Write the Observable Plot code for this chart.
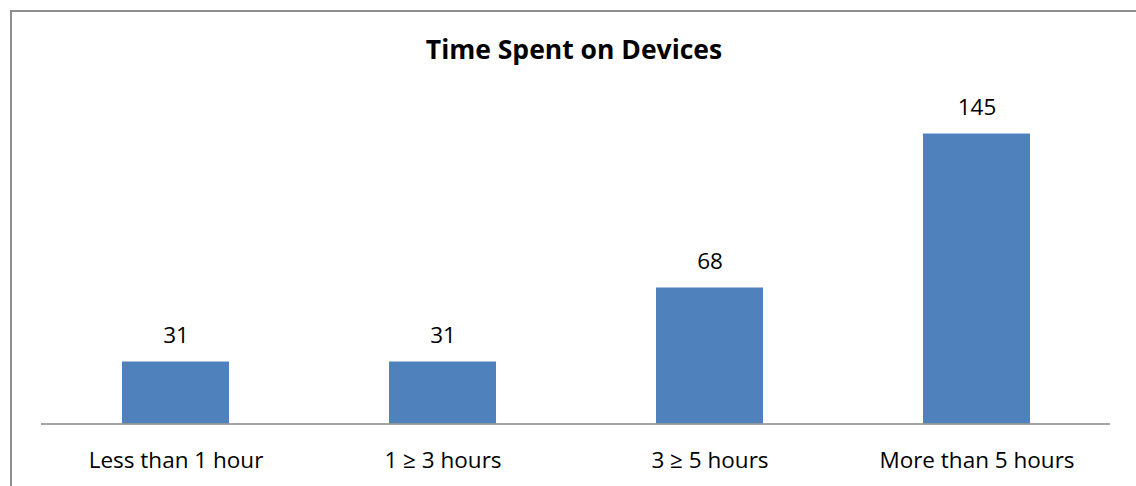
<!DOCTYPE html>
<html>
<head>
<meta charset="utf-8">
<script src="https://cdn.jsdelivr.net/npm/d3@7"></script>
<script src="https://cdn.jsdelivr.net/npm/@observablehq/plot@0.6"></script>
<style>
  html, body { margin: 0; padding: 0; background: #fff; overflow: hidden; }
  #wrap { position: relative; width: 1136px; height: 486px; overflow: hidden; }
  #border { position: absolute; left: 10px; top: 10px; width: 1126px; height: 476px; border-top: 2px solid #8e8e8e; border-left: 2px solid #8e8e8e; box-sizing: border-box; }
  #title { position: absolute; left: 0; width: 1148px; top: 36px; text-align: center; font: bold 26.5px "Open Sans", sans-serif; line-height: 1; color: #000; }
  #chart { position: absolute; left: 0; top: 0; }
</style>
</head>
<body>
<div id="wrap">
  <div id="border"></div>
  <div id="chart"></div>
  <div id="title">Time Spent on Devices</div>
</div>
<script>
const categories = ["Less than 1 hour", "1 \u2265 3 hours", "3 \u2265 5 hours", "More than 5 hours"];
const values = [31, 31, 68, 145];

const data = categories.map((c, i) => ({category: c, value: values[i]}));

const chart = Plot.plot({
  width: 1136,
  height: 486,
  marginLeft: 41,
  marginRight: 26,
  marginTop: 103.5,
  marginBottom: 62.5,
  style: {fontFamily: "'Open Sans', sans-serif", fontSize: "22.5px", color: "#000", background: "transparent"},
  x: {domain: categories, paddingInner: 0.6, paddingOuter: 0.3, label: null, tickSize: 0, tickPadding: 28},
  y: {domain: [0, 160], axis: null},
  marks: [
    Plot.barY(data, {x: "category", y: "value", fill: "#4f81bd"}),
    Plot.ruleY([0], {stroke: "#868686", strokeWidth: 1.5}),
    Plot.text(data, {x: "category", y: "value", text: d => String(d.value), dy: -26, fill: "#000", fontSize: 22.5})
  ]
});
document.getElementById("chart").appendChild(chart);
</script>
</body>
</html>
